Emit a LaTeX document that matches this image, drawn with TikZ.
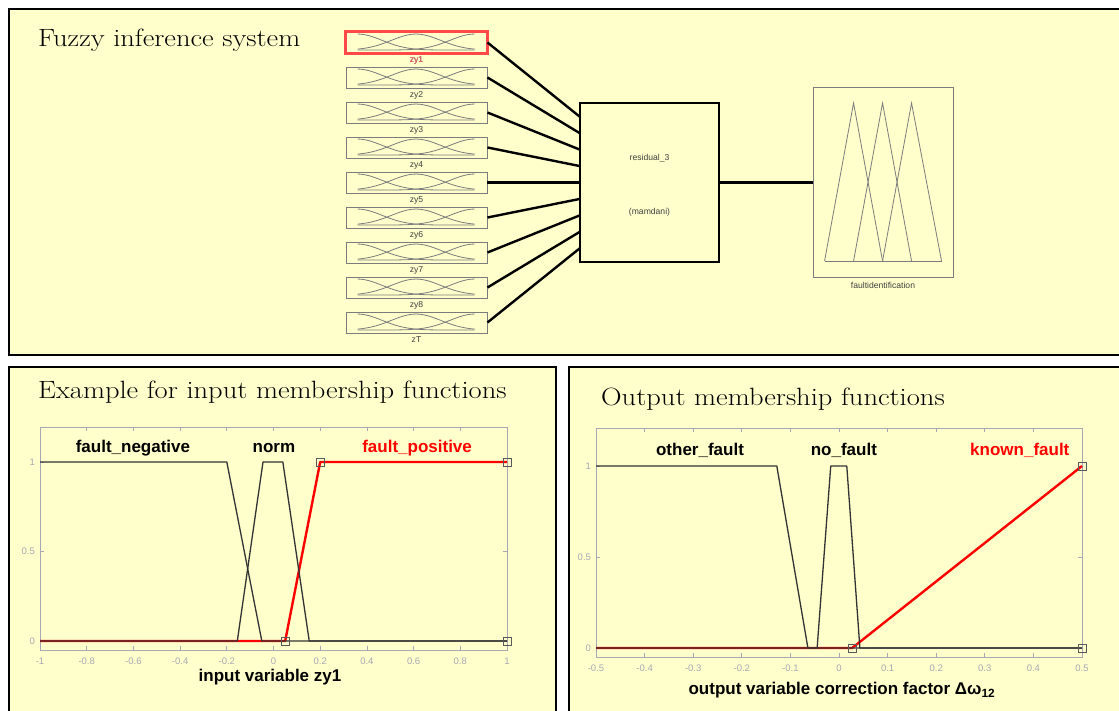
\documentclass[tikz,border=0pt]{standalone}
\usepackage{fontspec}
\usepackage{tikz}
\usetikzlibrary{positioning}
\newfontfamily\plotsans{Liberation Sans}
\definecolor{panelyellow}{HTML}{FFFFCC}
\definecolor{mfgray}{HTML}{7C7C7C}
\definecolor{axisgray}{HTML}{A8A8B4}
\definecolor{selred}{HTML}{FF4848}
\definecolor{zyred}{HTML}{FF5C6C}
\newcommand{\widetitle}[1]{\scalebox{1.14}[1]{#1}}

\begin{document}
\begin{tikzpicture}[x=1pt, y=-1pt,
panelfill/.style={fill=panelyellow, draw=none},
paneledge/.style={draw=black, line width=1.8pt},
titletext/.style={anchor=base west, inner sep=0pt, font=\fontsize{25}{30}\selectfont},
inbox/.style={rectangle, draw=mfgray, line width=0.9pt, minimum width=141pt, minimum height=21pt, inner sep=0pt},
fisbox/.style={rectangle, draw=black, line width=2.4pt, minimum width=139pt, minimum height=159pt, inner sep=0pt},
outbox/.style={rectangle, draw=mfgray, line width=0.9pt, minimum width=140pt, minimum height=190pt, inner sep=0pt},
smalllabel/.style={inner sep=0pt, text=black!75, font=\plotsans\fontsize{8.6}{10}\selectfont},
mfthin/.style={draw=mfgray, line width=0.8pt},
link/.style={draw=black, line width=2.4pt},
axisline/.style={draw=axisgray, line width=0.8pt},
ticklabel/.style={inner sep=0pt, text=axisgray, font=\plotsans\fontsize{9.5}{11}\selectfont},
mflabel/.style={inner sep=0pt, font=\plotsans\bfseries\fontsize{17}{20}\selectfont},
mfline/.style={draw=black!80, line width=1.3pt, line join=round},
mfsel/.style={draw=red, line width=2.4pt, line join=round},
vertex/.style={rectangle, draw=black!65, line width=0.7pt, minimum size=8pt, inner sep=0pt},
]
\useasboundingbox (0,0) rectangle (1119,711);
\fill[white] (0,0) rectangle (1119,711);

%Panels
\fill[panelfill] (9,9) rectangle (1119,355);
\draw[paneledge] (1119,9) -- (9,9) -- (9,355) -- (1119,355);
\fill[panelfill] (9,367) rectangle (556,711);
\draw[paneledge] (9,711) -- (9,367) -- (556,367) -- (556,711);
\fill[panelfill] (569,367) rectangle (1119,711);
\draw[paneledge] (569,711) -- (569,367) -- (1119,367);

\node[titletext] (title1) at (38,47) {\widetitle{Fuzzy inference system}};
\node[titletext] (title2) at (38,398) {\widetitle{Example for input membership functions}};
\node[titletext] (title3) at (601,405) {\widetitle{Output membership functions}};

%Nodes
\node[fisbox] (fis) at (649.5,182.5) {};
\node[smalllabel] (fisname) at ([yshift=24.5pt]fis.center) {residual\_3};
\node[smalllabel] (fistype) at ([yshift=-29.5pt]fis.center) {(mamdani)};
\node[outbox] (outmf) at (883,182.5) {};
\node[smalllabel, below=4.5pt of outmf] (outname) {faultidentification};

\foreach \i/\name in {1/zy1,2/zy2,3/zy3,4/zy4,5/zy5,6/zy6,7/zy7,8/zy8,9/zT}{
  \node[inbox] (in\i) at (416.5,{42.5+35*(\i-1)}) {};
  \node[smalllabel, below=2.5pt of in\i] (lbl\i) {\name};
  \begin{scope}[shift={(in\i.north west)}]
    \draw[mfthin] plot[domain=0:1, samples=31, smooth] ({12+117*\x},{18.5-16*exp(-(\x*\x)/0.0882)});
    \draw[mfthin] plot[domain=0:1, samples=31, smooth] ({12+117*\x},{18.5-16*exp(-((\x-0.5)*(\x-0.5))/0.0882)});
    \draw[mfthin] plot[domain=0:1, samples=31, smooth] ({12+117*\x},{18.5-16*exp(-((\x-1)*(\x-1))/0.0882)});
  \end{scope}
  \coordinate (hit\i) at (580,{182.5+16.4*(\i-5)});
}
\draw[selred, line width=2.6pt] (in1.north west) rectangle (in1.south east);
\node[smalllabel, text=zyred] at (lbl1) {zy1};

\begin{scope}[shift={(outmf.north west)}]
  \draw[mfthin] (12,174) -- (129,174);
  \draw[mfthin] (12,174) -- (41,16) -- (70,174);
  \draw[mfthin] (41,174) -- (70,16) -- (99,174);
  \draw[mfthin] (70,174) -- (99,16) -- (129,174);
\end{scope}

%Lines
\foreach \i in {1,...,9}
  \draw[link] (in\i.east) -- (hit\i);
\draw[link] (fis.east) -- (outmf.west);

%Input membership functions
\begin{scope}[shift={(273.5,641)}, xscale=233.5, yscale=-179]
  \draw[axisline] (-1,-0.05) rectangle (1,1.196);
  \foreach \t/\lab in {-1/-1,-0.8/-0.8,-0.6/-0.6,-0.4/-0.4,-0.2/-0.2,0/0,0.2/0.2,0.4/0.4,0.6/0.6,0.8/0.8,1/1}{
    \draw[axisline] (\t,-0.05) -- (\t,-0.028);
    \draw[axisline] (\t,1.196) -- (\t,1.174);
    \node[ticklabel] at (\t,-0.112) {\lab};
  }
  \foreach \v/\lab in {0/0,0.5/0.5,1/1}{
    \draw[axisline] (-1,\v) -- (-0.983,\v);
    \draw[axisline] (1,\v) -- (0.983,\v);
    \node[ticklabel, anchor=east] at (-1.021,\v) {\lab};
  }
  \draw[mfsel] (-1,0) -- (0.05,0) -- (0.2,1) -- (1,1);
  \draw[mfline] (-1,1) -- (-0.2,1) -- (-0.05,0) -- (1,0);
  \draw[mfline] (-1,0) -- (-0.155,0) -- (-0.045,1) -- (0.04,1) -- (0.153,0) -- (1,0);
  \foreach \p in {(0.05,0),(0.2,1),(1,1),(1,0)}
    \node[vertex] at \p {};
  \node[mflabel] at (-0.602,1.078) {fault\_negative};
  \node[mflabel] at (0.002,1.078) {norm};
  \node[mflabel, text=red] at (0.615,1.078) {fault\_positive};
  \node[mflabel] at (-0.015,-0.201) {input variable zy1};
\end{scope}

%Output membership functions
\begin{scope}[shift={(839,648)}, xscale=486, yscale=-182]
  \draw[axisline] (-0.5,-0.049) rectangle (0.5,1.209);
  \foreach \t/\lab in {-0.5/-0.5,-0.4/-0.4,-0.3/-0.3,-0.2/-0.2,-0.1/-0.1,0/0,0.1/0.1,0.2/0.2,0.3/0.3,0.4/0.4,0.5/0.5}{
    \draw[axisline] (\t,-0.049) -- (\t,-0.027);
    \draw[axisline] (\t,1.209) -- (\t,1.187);
    \node[ticklabel] at (\t,-0.11) {\lab};
  }
  \foreach \v/\lab in {0/0,0.5/0.5,1/1}{
    \draw[axisline] (-0.5,\v) -- (-0.492,\v);
    \draw[axisline] (0.5,\v) -- (0.492,\v);
    \node[ticklabel, anchor=east] at (-0.51,\v) {\lab};
  }
  \draw[mfsel] (-0.5,0) -- (0.027,0) -- (0.5,1);
  \draw[mfline] (-0.5,1) -- (-0.128,1) -- (-0.064,0) -- (0.5,0);
  \draw[mfline] (-0.5,0) -- (-0.045,0) -- (-0.017,1) -- (0.016,1) -- (0.043,0) -- (0.5,0);
  \foreach \p in {(0.027,0),(0.5,1),(0.5,0)}
    \node[vertex] at \p {};
  \node[mflabel] at (-0.286,1.088) {other\_fault};
  \node[mflabel] at (0.010,1.088) {no\_fault};
  \node[mflabel, text=red] at (0.372,1.088) {known\_fault};
  \node[mflabel] at (0.006,-0.231) {output variable correction factor Δω\textsubscript{12}};
\end{scope}
\end{tikzpicture}
\end{document}
